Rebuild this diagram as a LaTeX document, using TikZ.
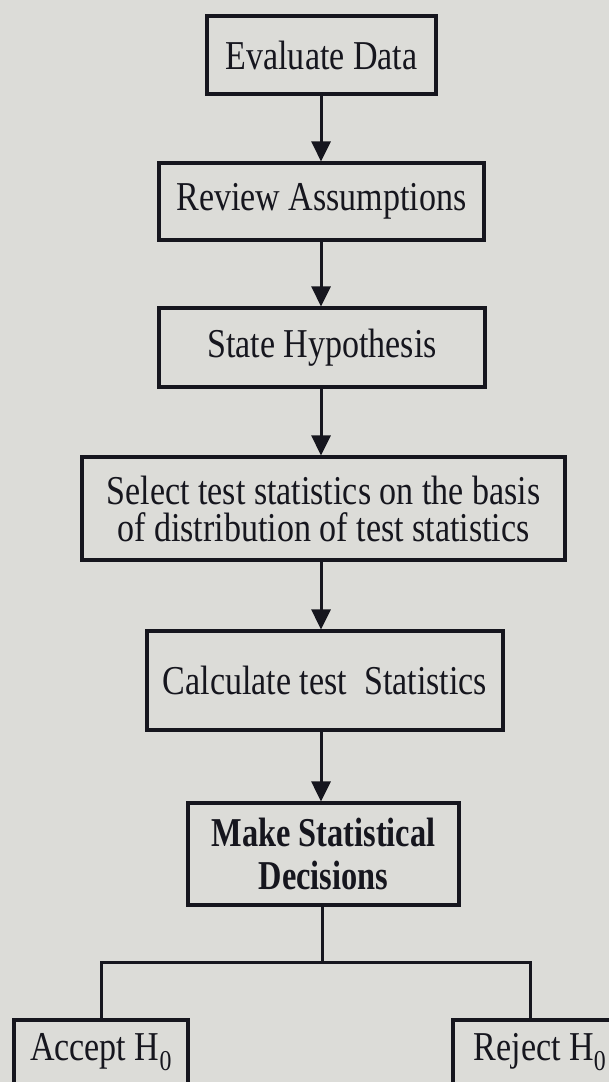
\documentclass[tikz,border=0pt]{standalone}
\usepackage{fontspec}
\setmainfont{Liberation Serif}
\newfontfamily\flowfont[FakeStretch=0.83]{Liberation Serif}
\newfontfamily\flowbold[FakeStretch=0.79,UprightFont=* Bold]{Liberation Serif}
\usetikzlibrary{arrows.meta}
\definecolor{paper}{HTML}{DCDCD8}
\definecolor{ink}{HTML}{16161E}
\begin{document}
\begin{tikzpicture}[x=1pt,y=-1pt,
  box/.style={draw=ink, line width=3.2pt, inner sep=0pt, align=center,
    text=ink, font=\flowfont\fontsize{41}{37}\selectfont},
  boldbox/.style={box, font=\flowbold\fontsize{41}{43}\selectfont},
  link/.style={draw=ink, line width=3pt},
  arr/.style={link, -{Triangle[length=20pt,width=19pt]}}]
\fill[paper] (0,0) rectangle (609,1082);
\useasboundingbox (0,0) rectangle (609,1082);
\begin{scope}
\clip (0,0) rectangle (609,1082);
\node[box, minimum width=229pt, minimum height=78pt] (eval) at (321.5,55) {Evaluate Data};
\node[box, minimum width=325pt, minimum height=77pt] (review) at (321.5,201.5) {Review Assumptions};
\node[box, minimum width=326pt, minimum height=79pt] (state) at (322,347.5) {State Hypothesis};
\node[box, minimum width=483pt, minimum height=103pt] (select) at (323.5,508.5) {Select test statistics on the basis\\of distribution of test statistics};
\node[box, minimum width=356pt, minimum height=99pt] (calc) at (325,680.5) {Calculate test\ \ Statistics};
\node[boldbox, minimum width=271pt, minimum height=102pt] (make) at (323.5,854) {Make Statistical\\Decisions};
\node[box, minimum width=174pt, minimum height=64pt] (accept) at (101,1052) {Accept H\textsubscript{0}};
\node[box, minimum width=174pt, minimum height=64pt] (reject) at (540,1052) {Reject H\textsubscript{0}};
\coordinate (ax) at (321,0);
\coordinate (split) at (322,962);
\coordinate (la) at (101,962);
\coordinate (ra) at (530,962);
\draw[arr] (eval.south -| ax) -- (review.north -| ax);
\draw[arr] (review.south -| ax) -- (state.north -| ax);
\draw[arr] (state.south -| ax) -- (select.north -| ax);
\draw[arr] (select.south -| ax) -- (calc.north -| ax);
\draw[arr] (calc.south -| ax) -- (make.north -| ax);
\draw[link] (make.south -| split) -- (split);
\draw[link] (la |- accept.north) -- (la) -- (ra) -- (ra |- reject.north);
\end{scope}
\end{tikzpicture}
\end{document}
